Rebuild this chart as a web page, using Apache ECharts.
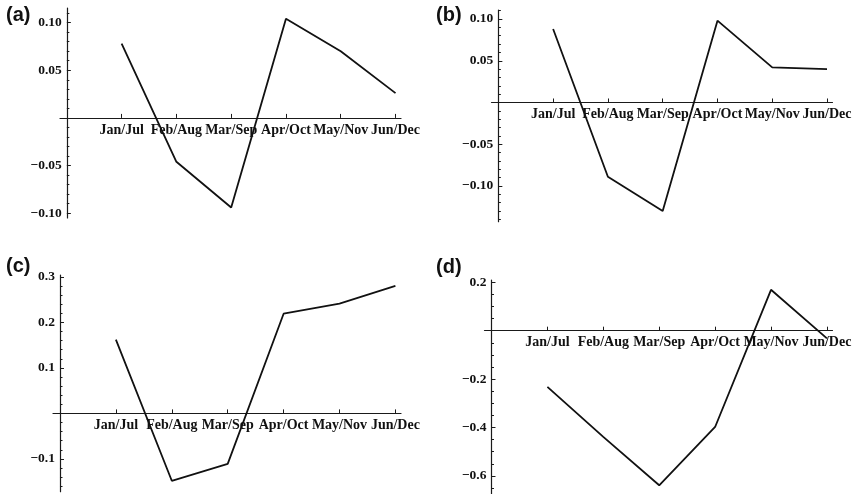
<!DOCTYPE html>
<html>
<head>
<meta charset="utf-8">
<script src="https://cdn.jsdelivr.net/npm/echarts@6/dist/echarts.min.js"></script>
<style>
  html, body { margin: 0; padding: 0; background: #fff; }
  #chart { width: 857px; height: 494px; }
</style>
</head>
<body>
<div id="chart"></div>
<script>
  // categories shared by all four panels
  const categories = ['Jan/Jul', 'Feb/Aug', 'Mar/Sep', 'Apr/Oct', 'May/Nov', 'Jun/Dec'];
  const catPos = [1, 2, 3, 4, 5, 6];

  // series values
  const valuesA = [0.078, -0.046, -0.094, 0.104, 0.070, 0.026];
  const valuesB = [0.088, -0.089, -0.130, 0.098, 0.042, 0.040];
  const valuesC = [0.162, -0.148, -0.111, 0.219, 0.241, 0.280];
  const valuesD = [-0.232, -0.439, -0.639, -0.398, 0.169, -0.032];

  // tick labels on the y axes
  const ticksA = [-0.10, -0.05, 0.05, 0.10];
  const ticksB = [-0.10, -0.05, 0.05, 0.10];
  const ticksC = [-0.1, 0.1, 0.2, 0.3];
  const ticksD = [-0.6, -0.4, -0.2, 0.2];

  const panelLabels = ['(a)', '(b)', '(c)', '(d)'];

  const XMIN = -0.125, XMAX = 6.1;

  function minorTicks(lo, hi, step, majors) {
    let out = [];
    let n0 = Math.round(lo / step), n1 = Math.round(hi / step);
    for (let n = n0; n <= n1; n++) {
      let v = +(n * step).toFixed(4);
      if (v === 0 || majors.some(m => Math.abs(m - v) < 1e-6)) continue;
      out.push(v);
    }
    return out;
  }

  function fmt(dec) {
    return v => {
      if (Math.abs(v) < 1e-9) return '';
      return (v < 0 ? '\u2212' : '') + Math.abs(v).toFixed(dec);
    };
  }

  const panels = [
    { data: valuesA, ticks: ticksA, minor: minorTicks(-0.10, 0.11, 0.01, ticksA), dec: 2,
      ymin: -0.105, ymax: 0.1153, left: 60, top: 8, width: 341, height: 210 },
    { data: valuesB, ticks: ticksB, minor: minorTicks(-0.14, 0.11, 0.01, ticksB), dec: 2,
      ymin: -0.1428, ymax: 0.1108, left: 491.5, top: 10, width: 341, height: 211.7 },
    { data: valuesC, ticks: ticksC, minor: minorTicks(-0.16, 0.30, 0.02, ticksC), dec: 1,
      ymin: -0.172, ymax: 0.304, left: 53, top: 275, width: 348, height: 216.7 },
    { data: valuesD, ticks: ticksD, minor: minorTicks(-0.65, 0.2, 0.05, ticksD), dec: 1,
      ymin: -0.675, ymax: 0.2095, left: 484.5, top: 280, width: 348, height: 214 }
  ];

  const axisColor = '#1a1a1a';
  const labelFont = { fontFamily: 'Liberation Serif', fontWeight: 'bold', color: '#111' };

  let grid = [], xAxis = [], yAxis = [], series = [];
  panels.forEach((p, i) => {
    // shift the axes so they cross at (0, 0) like the original
    const xOff = -p.height * (0 - p.ymin) / (p.ymax - p.ymin);
    const yOff = -p.width * (0 - XMIN) / (XMAX - XMIN);
    grid.push({ left: p.left, top: p.top, width: p.width, height: p.height, outerBoundsMode: 'none' });
    xAxis.push({
      type: 'value', gridIndex: i, min: XMIN, max: XMAX,
      position: 'bottom', offset: xOff,
      splitLine: { show: false },
      axisLine: { show: true, onZero: false, lineStyle: { color: axisColor, width: 1.2 } },
      axisTick: { show: true, inside: true, length: 4, customValues: catPos, lineStyle: { color: axisColor } },
      axisLabel: Object.assign({
        customValues: catPos, fontSize: 14, margin: 5,
        formatter: v => categories[Math.round(v) - 1] || ''
      }, labelFont)
    });
    // main y axis: major ticks and labels
    yAxis.push({
      type: 'value', gridIndex: i, min: p.ymin, max: p.ymax,
      position: 'left', offset: yOff,
      splitLine: { show: false },
      axisLine: { show: true, onZero: false, lineStyle: { color: axisColor, width: 1.2 } },
      axisTick: { show: true, inside: true, length: 4, customValues: p.ticks, lineStyle: { color: axisColor } },
      axisLabel: Object.assign({
        customValues: p.ticks, fontSize: 13.5, margin: 5, formatter: fmt(p.dec)
      }, labelFont)
    });
    // second y axis only for the minor ticks
    yAxis.push({
      type: 'value', gridIndex: i, min: p.ymin, max: p.ymax,
      position: 'left', offset: yOff,
      splitLine: { show: false },
      axisLine: { show: false, onZero: false },
      axisTick: { show: true, inside: true, length: 2.5, customValues: p.minor, lineStyle: { color: axisColor } },
      axisLabel: { show: false }
    });
    series.push({
      type: 'line', xAxisIndex: i, yAxisIndex: 2 * i,
      data: p.data.map((v, k) => [catPos[k], v]),
      symbol: 'none',
      lineStyle: { color: '#111', width: 1.8 }
    });
  });

  const labelPos = [[6, 16], [436, 16], [6, 267], [436, 268]];
  const graphic = panelLabels.map((t, i) => ({
    type: 'text', left: labelPos[i][0], top: labelPos[i][1] - 11,
    style: { text: t, font: 'bold 20px "Liberation Sans"', fill: '#111' }
  }));

  let chart = echarts.init(document.getElementById('chart'));
  chart.setOption({
    animation: false,
    grid: grid,
    xAxis: xAxis,
    yAxis: yAxis,
    series: series,
    graphic: graphic
  });
</script>
</body>
</html>
